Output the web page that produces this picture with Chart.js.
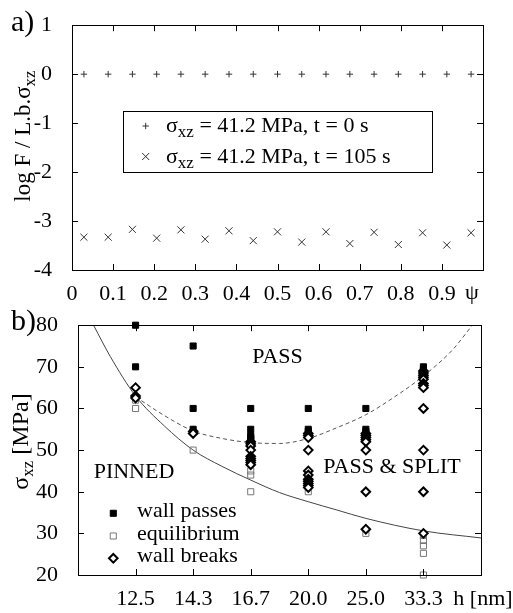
<!DOCTYPE html>
<html><head><meta charset="utf-8">
<script src="https://cdn.jsdelivr.net/npm/chart.js@4.4.1/dist/chart.umd.min.js"></script>
<style>
html,body{margin:0;padding:0;background:#fff;}
#wrap{position:relative;width:513px;height:613px;overflow:hidden;background:#fff;}
canvas{position:absolute;left:0;}
#ca{top:0;} #cb{top:300px;}
</style></head><body>
<div id="wrap"><canvas id="ca" width="513" height="306"></canvas><canvas id="cb" width="513" height="313"></canvas></div>
<script>
// ---------- Panel a data ----------
const psi = [0.029,0.088,0.147,0.206,0.265,0.324,0.382,0.441,0.5,0.559,0.618,0.676,0.735,0.794,0.853,0.912,0.971];
const logF_t0 = [0,0,0,0,0,0,0,0,0,0,0,0,0,0,0,0,0];
const logF_t105 = [-3.33,-3.33,-3.17,-3.35,-3.18,-3.37,-3.20,-3.40,-3.22,-3.43,-3.22,-3.46,-3.23,-3.48,-3.24,-3.49,-3.24];
const psiTicks = [0,0.1,0.2,0.3,0.4,0.5,0.6,0.7,0.8,0.9];
const logTicks = [1,0,-1,-2,-3,-4];
const legendA = ['\u03c3|xz| = 41.2 MPa, t = 0 s', '\u03c3|xz| = 41.2 MPa, t = 105 s'];

// ---------- Panel b data ----------
const hLabels = ['12.5','14.3','16.7','20.0','25.0','33.3'];
const wallPasses = [[80,70],[75,60,55],[60,55,53.5,53,52.5],[60,55,54.5],[60,55,54.5],[70,69.5,69]];
const equilibrium = [[62,60],[50],[45,44,40],[40],[30],[29.5,28.3,27,25.2,20]];
const wallBreaks = [[65,63,62.5],[54.5,54],[52,51.5,51,50,48.5,48,47.5,47,46.5],[54,53.5,53,50,45,44,43,42.5,42,41.5,41],[54,53.5,53,52.5,52,50,40,31],[69,68.5,68,67.5,67,66,65.5,65,60,50,40,30]];
const sigmaTicks = [20,30,40,50,60,70,80];
const pinCurveX = [0.27,0.56,1,1.5,2,2.5,3,3.5,4,4.5,5,6,7];
const pinCurveY = [80,72.5,63,55.8,50,46.1,42.8,39.8,37.6,35.6,33.6,30.6,28.9];
const passCurveX = [1,1.5,2,2.5,3,3.5,4,4.5,5,5.5,6,6.5,6.85];
const passCurveY = [62.8,58.3,54.6,52.8,51.8,51.6,52.8,55.4,58.5,62.8,67.8,74,80];
const legendB = ['wall passes','equilibrium','wall breaks'];
const regionLabels = ['PASS','PINNED','PASS & SPLIT'];

// ---------- helpers ----------
const FF = "'Liberation Serif','Times New Roman',serif";
Chart.defaults.font.family = FF;
Chart.defaults.font.size = 22;
Chart.defaults.color = '#000';

function parts(str, size, sub) {
  return str.split('|').map((t,i)=>({t, s: i%2 ? sub : size, dy: i%2 ? 5 : 0}));
}
function richWidth(ctx, ps){ let w=0; for(const p of ps){ctx.font=p.s+'px '+FF; w+=ctx.measureText(p.t).width;} return w; }
function drawRich(ctx, ps, x, y){ for(const p of ps){ctx.font=p.s+'px '+FF; ctx.fillText(p.t,x,y+p.dy); x+=ctx.measureText(p.t).width;} }

const framePlugin = {
  id:'frame',
  afterDatasetsDraw(chart, args, o){
    const {ctx, chartArea:a} = chart; const sx = chart.scales.x, sy = chart.scales.y;
    ctx.save(); ctx.strokeStyle='#000'; ctx.lineWidth=1;
    ctx.beginPath();
    for(const v of o.xt){ const p=Math.round(sx.getPixelForValue(v))+0.5;
      ctx.moveTo(p,a.bottom); ctx.lineTo(p,a.bottom-o.len); ctx.moveTo(p,a.top); ctx.lineTo(p,a.top+o.len); }
    for(const v of o.yt){ const p=Math.round(sy.getPixelForValue(v))+0.5;
      ctx.moveTo(a.left,p); ctx.lineTo(a.left+o.len,p); ctx.moveTo(a.right,p); ctx.lineTo(a.right-o.len,p); }
    ctx.stroke();
    ctx.strokeRect(Math.round(a.left)+0.5, Math.round(a.top)+0.5, Math.round(a.right-a.left), Math.round(a.bottom-a.top));
    ctx.restore();
  }
};

function pts(x, y){ return x.map((v,i)=>({x:v, y:y[i]})); }
function catPts(groups){ const out=[]; groups.forEach((g,i)=>g.forEach(v=>out.push({x:i+1, y:v}))); return out; }

// ---------- Panel a ----------
const textA = {
  id:'textA',
  afterDraw(chart){
    const ctx = chart.ctx; const sx = chart.scales.x;
    ctx.save(); ctx.fillStyle='#000'; ctx.textBaseline='alphabetic';
    ctx.font='30px '+FF; ctx.fillText('a)', 11, 31);
    ctx.font='22px '+FF; ctx.textAlign='center';
    ctx.fillText('\u03c8', sx.getPixelForValue(1)-11, 299);
    ctx.textAlign='left';
    const yt = parts('log F / L.b.\u03c3|xz|', 23, 17);
    ctx.save(); ctx.translate(30, 136); ctx.rotate(-Math.PI/2);
    drawRich(ctx, yt, -richWidth(ctx, yt)/2, 0); ctx.restore();
    ctx.strokeStyle='#000'; ctx.lineWidth=1;
    ctx.strokeRect(123.5,111.5,309,61);
    const rows=[{y:131.5, my:126, st:'cross', r:3.2},{y:162.5, my:156.5, st:'crossRot', r:5}];
    rows.forEach((rw,i)=>{
      ctx.strokeStyle='#333'; ctx.fillStyle='#333';
      Chart.helpers.drawPoint(ctx,{pointStyle:rw.st, radius:rw.r, borderWidth:1, rotation:0},145.7,rw.my);
      ctx.fillStyle='#000';
      drawRich(ctx, parts(legendA[i],22,17), 166, rw.y);
    });
    ctx.restore();
  }
};

new Chart(document.getElementById('ca'), {
  type:'scatter',
  data:{datasets:[
    {label:legendA[0], data:pts(psi,logF_t0), pointStyle:'cross', pointRadius:3.2, borderColor:'#333', backgroundColor:'#333', pointBorderWidth:1, clip:false},
    {label:legendA[1], data:pts(psi,logF_t105), pointStyle:'crossRot', pointRadius:5, borderColor:'#333', backgroundColor:'#333', pointBorderWidth:1, clip:false}
  ]},
  options:{
    responsive:false, animation:false, devicePixelRatio:1,
    layout:{padding:{left:0,right:30,top:12,bottom:0}},
    plugins:{legend:{display:false}, tooltip:{enabled:false},
      frame:{xt:psiTicks.slice(1), yt:logTicks.slice(1,-1), len:6}},
    scales:{
      x:{type:'linear', min:0, max:1,
        afterBuildTicks:s=>{ s.ticks = psiTicks.map(v=>({value:v})); },
        afterFit:s=>{ s.height=36; },
        grid:{display:false}, border:{display:false},
        ticks:{padding:3, maxRotation:0, autoSkip:false, callback:v=>{ const r=Math.round(v*10)/10; return r===0?'0':r.toFixed(1);} }},
      y:{min:-4, max:1,
        afterBuildTicks:s=>{ s.ticks = logTicks.map(v=>({value:v})); },
        afterFit:s=>{ s.width=72; },
        grid:{display:false}, border:{display:false},
        ticks:{padding:12}}
    }
  },
  plugins:[framePlugin, textA]
});

// ---------- Panel b ----------
const textB = {
  id:'textB',
  afterDraw(chart){
    const ctx=chart.ctx; const sx = chart.scales.x;
    ctx.save(); ctx.fillStyle='#000'; ctx.textBaseline='alphabetic';
    ctx.font='30px '+FF; ctx.fillText('b)', 11, 30);
    const yt = parts('\u03c3|xz| [MPa]', 24, 17);
    ctx.save(); ctx.translate(28, 141.5); ctx.rotate(-Math.PI/2);
    drawRich(ctx, yt, -richWidth(ctx, yt)/2, 0); ctx.restore();
    ctx.font='22px '+FF; ctx.textAlign='center';
    ctx.fillText('h [nm]', sx.getPixelForValue(7)+2, 304.5);
    ctx.fillText(regionLabels[0], 277.5, 63.3);
    ctx.fillText(regionLabels[1], 134, 178.3);
    ctx.fillText(regionLabels[2], 392, 173.3);
    ctx.textAlign='left';
    const styles=[
      {pointStyle:'rect', radius:4.3, borderWidth:1, rotation:0, fill:'#000', stroke:'#000'},
      {pointStyle:'rect', radius:4.3, borderWidth:1, rotation:0, fill:'rgba(0,0,0,0)', stroke:'#777'},
      {pointStyle:'rectRot', radius:4.3, borderWidth:2, rotation:0, fill:'#fff', stroke:'#000'}];
    const ry=[213.3,236,258.3];
    styles.forEach((st,i)=>{
      ctx.fillStyle=st.fill; ctx.strokeStyle=st.stroke; ctx.lineWidth=st.borderWidth;
      Chart.helpers.drawPoint(ctx, st, 113.3, ry[i]);
      ctx.fillStyle='#000'; ctx.font='22px '+FF;
      ctx.fillText(legendB[i], 137, ry[i]+3.5);
    });
    ctx.restore();
  }
};

const bTicks = hLabels.map((_,i)=>i+1);
new Chart(document.getElementById('cb'), {
  type:'scatter',
  data:{datasets:[
    {label:legendB[2], data:catPts(wallBreaks), pointStyle:'rectRot', pointRadius:4.3, pointBorderWidth:2, borderColor:'#000', backgroundColor:'#fff', clip:false},
    {label:legendB[0], data:catPts(wallPasses), pointStyle:'rect', pointRadius:4.3, pointBorderWidth:1, borderColor:'#000', backgroundColor:'#000', clip:false},
    {label:legendB[1], data:catPts(equilibrium), pointStyle:'rect', pointRadius:4.3, pointBorderWidth:1, borderColor:'#777', backgroundColor:'rgba(0,0,0,0)', clip:false},
    {type:'line', label:'pass boundary', data:pts(passCurveX,passCurveY), showLine:true, pointRadius:0, borderColor:'#555', borderWidth:1, borderDash:[4,3], cubicInterpolationMode:'monotone', fill:false, clip:false},
    {type:'line', label:'pinning boundary', data:pts(pinCurveX,pinCurveY), showLine:true, pointRadius:0, borderColor:'#444', borderWidth:1, cubicInterpolationMode:'monotone', fill:false, clip:false}
  ]},
  options:{
    responsive:false, animation:false, devicePixelRatio:1,
    layout:{padding:{left:0,right:32,top:16,bottom:0}},
    plugins:{legend:{display:false}, tooltip:{enabled:false},
      frame:{xt:bTicks, yt:sigmaTicks.slice(1,-1), len:6}},
    scales:{
      x:{type:'linear', min:0, max:7,
        afterBuildTicks:s=>{ s.ticks = bTicks.map(v=>({value:v})); },
        afterFit:s=>{ s.height=38; },
        grid:{display:false}, border:{display:false},
        ticks:{padding:3, maxRotation:0, autoSkip:false, callback:v=> hLabels[v-1]||''}},
      y:{min:20, max:80,
        afterBuildTicks:s=>{ s.ticks = sigmaTicks.map(v=>({value:v})); },
        afterFit:s=>{ s.width=78; },
        grid:{display:false}, border:{display:false},
        ticks:{padding:12}}
    }
  },
  plugins:[framePlugin, textB]
});
</script></body></html>
